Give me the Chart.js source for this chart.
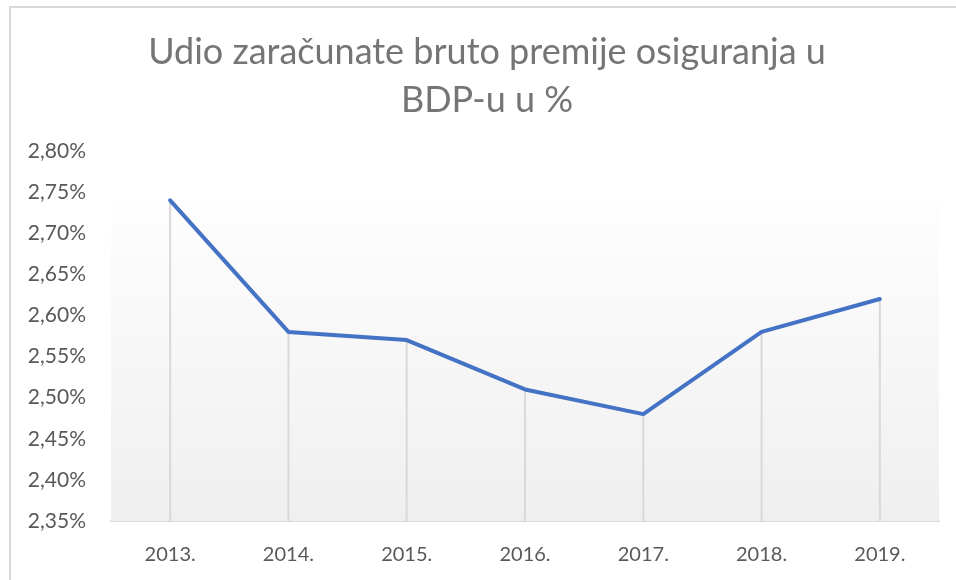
<!DOCTYPE html>
<html>
<head>
<meta charset="utf-8">
<script src="https://cdn.jsdelivr.net/npm/chart.js@4/dist/chart.umd.min.js"></script>
<style>
  body { margin: 0; background: #fff; overflow: hidden; }
  .frame { position: absolute; left: 9px; top: 6px; width: 1000px; height: 700px; border-left: 2px solid #d9d9d9; border-top: 2px solid #d9d9d9; }
  #myChart { position: absolute; left: 0; top: 0; }
  .title { position: absolute; left: 0; top: 26px; width: 974px; text-align: center; font-family: Lato, sans-serif; font-size: 36px; line-height: 48px; color: #757575; }
</style>
</head>
<body>
<div class="frame"></div>
<canvas id="myChart" width="956" height="580"></canvas>
<div class="title">Udio zaračunate bruto premije osiguranja u<br>BDP-u u %</div>
<script>
const years = ['2013.', '2014.', '2015.', '2016.', '2017.', '2018.', '2019.']
const share = [2.74, 2.58, 2.57, 2.51, 2.48, 2.58, 2.62]
const yMin = 2.35
const yMax = 2.80
const yStep = 0.05

// plot background + drop lines from each point down to the axis
const plotExtras = {
    id: 'plotExtras',
    beforeDatasetsDraw(chart) {
        const { ctx, chartArea: a, scales } = chart
        ctx.save()
        const top = a.top + (a.bottom - a.top) * 0.13
        const g = ctx.createLinearGradient(0, top, 0, a.bottom)
        g.addColorStop(0, '#fefefe')
        g.addColorStop(1, '#efefef')
        ctx.fillStyle = g
        ctx.fillRect(a.left, top, a.right - a.left, a.bottom - top)
        ctx.strokeStyle = '#d9d9d9'
        ctx.lineWidth = 2
        share.forEach((v, i) => {
            const x = scales.x.getPixelForValue(i)
            ctx.beginPath()
            ctx.moveTo(x, scales.y.getPixelForValue(v))
            ctx.lineTo(x, a.bottom)
            ctx.stroke()
        })
        ctx.restore()
    }
}

const ctx = document.querySelector('#myChart').getContext('2d')

const chart = new Chart(ctx, {
    type: 'line',
    data: {
        labels: years,
        datasets: [{
            data: share,
            borderColor: '#4472c4',
            borderWidth: 4,
            borderCapStyle: 'round',
            borderJoinStyle: 'round',
            pointRadius: 0,
            tension: 0
        }]
    },
    options: {
        responsive: false,
        animation: false,
        layout: {
            padding: { left: 0, right: 17, top: 151, bottom: 12 }
        },
        plugins: {
            legend: { display: false },
            tooltip: { enabled: false },
            title: { display: false }
        },
        scales: {
            y: {
                min: yMin,
                max: yMax,
                afterFit(scale) { scale.width = 111 },
                ticks: {
                    stepSize: yStep,
                    color: '#595959',
                    padding: 25,
                    font: { family: 'Lato', size: 21 },
                    callback: v => v.toFixed(2).replace('.', ',') + '%'
                },
                grid: { display: false, drawTicks: false },
                border: { display: false }
            },
            x: {
                offset: true,
                afterFit(scale) { scale.height = 47 },
                ticks: {
                    color: '#595959',
                    padding: 22,
                    font: { family: 'Lato', size: 20 }
                },
                grid: { display: false, drawTicks: false },
                border: { display: true, color: '#d9d9d9', width: 2 }
            }
        }
    },
    plugins: [plotExtras]
})
</script>
</body>
</html>
